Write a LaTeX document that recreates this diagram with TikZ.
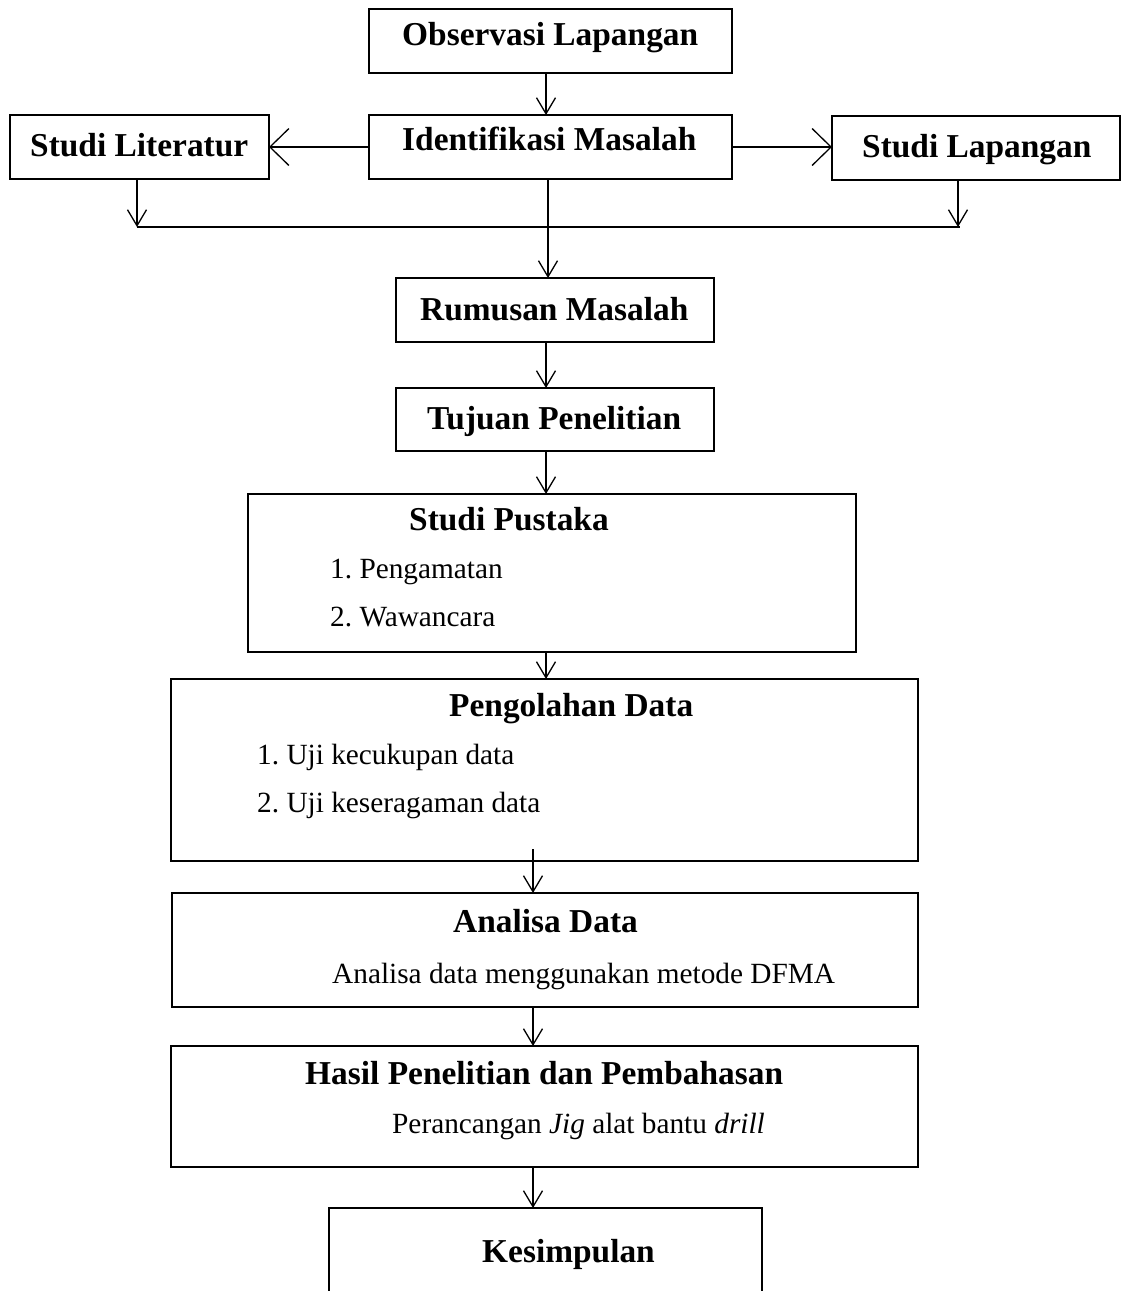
\documentclass[tikz,border=0pt]{standalone}
\usepackage{fontspec}
\setmainfont{Liberation Serif}
\usetikzlibrary{arrows.meta}
\begin{document}
\begin{tikzpicture}[x=1pt,y=-1pt,
  box/.style={draw, rectangle, line width=1.5pt, inner sep=0pt, outer sep=0pt},
  ttl/.style={font=\fontsize{33.4}{40}\selectfont\bfseries, anchor=base west, inner sep=0pt},
  txt/.style={font=\fontsize{29.3}{35}\selectfont, anchor=base west, inner sep=0pt},
  varr/.style={line width=1.3pt, -{Straight Barb[length=16pt,width=19pt]}},
  harr/.style={line width=1.3pt, -{Straight Barb[length=19pt,width=37pt]}},
  plain/.style={line width=1.3pt}]
\useasboundingbox (0,0) rectangle (1121,1291);
\clip (0,0) rectangle (1121,1291);
% boxes
\node[box, minimum width=363pt, minimum height=64pt] (obs) at (550.5,41) {};
\node[box, minimum width=363pt, minimum height=64pt] (idm) at (550.5,147) {};
\node[box, minimum width=259pt, minimum height=64pt] (slit) at (139.5,147) {};
\node[box, minimum width=288pt, minimum height=64pt] (slap) at (976,148) {};
\node[box, minimum width=318pt, minimum height=64pt] (rum) at (555,310) {};
\node[box, minimum width=318pt, minimum height=63pt] (tuj) at (555,419.5) {};
\node[box, minimum width=608pt, minimum height=158pt] (pus) at (552,573) {};
\node[box, minimum width=747pt, minimum height=182pt] (peng) at (544.5,770) {};
\node[box, minimum width=746pt, minimum height=114pt] (ana) at (545,950) {};
\node[box, minimum width=747pt, minimum height=121pt] (has) at (544.5,1106.5) {};
\node[box, minimum width=433pt, minimum height=112pt] (kes) at (545.5,1264) {};
% texts
\node[ttl] (tobs) at (402,45) {Observasi Lapangan};
\node[ttl] (tidm) at (402,150) {Identifikasi Masalah};
\node[ttl] (tslit) at (30,156) {Studi Literatur};
\node[ttl] (tslap) at (862,157) {Studi Lapangan};
\node[ttl] (trum) at (420,320) {Rumusan Masalah};
\node[ttl] (ttuj) at (427,429) {Tujuan Penelitian};
\node[ttl] (tpus) at (409,530) {Studi Pustaka};
\node[txt] (tpus1) at (330,578) {1.\ Pengamatan};
\node[txt] (tpus2) at (330,626) {2.\ Wawancara};
\node[ttl] (tpeng) at (449,716) {Pengolahan Data};
\node[txt] (tpeng1) at (257,764) {1.\ Uji kecukupan data};
\node[txt] (tpeng2) at (257,812) {2.\ Uji keseragaman data};
\node[ttl] (tana) at (453,932) {Analisa Data};
\node[txt] (tana1) at (332,983) {Analisa data menggunakan metode DFMA};
\node[ttl] (thas) at (305,1084) {Hasil Penelitian dan Pembahasan};
\node[txt] (thas1) at (392,1133) {Perancangan \textit{Jig} alat bantu \textit{drill}};
\node[ttl] (tkes) at (482,1262) {Kesimpulan};
% guide coordinates
\coordinate (xa) at (546,0);
\coordinate (xb) at (548,0);
\coordinate (xc) at (533,0);
\coordinate (xl) at (137,0);
\coordinate (xr) at (958,0);
\coordinate (j1) at (137,227);
\coordinate (j2) at (960,227);
% connectors
\draw[varr] (obs.south -| xa) -- (idm.north -| xa);
\draw[harr] (idm.west) -- (slit.east);
\draw[harr] (idm.east) -- (slap.west |- idm.east);
\draw[varr] (slit.south -| xl) -- (j1);
\draw[varr] (slap.south -| xr) -- (j2 -| xr);
\draw[plain] (j1) -- (j2);
\draw[varr] (idm.south -| xb) -- (rum.north -| xb);
\draw[varr] (rum.south -| xa) -- (tuj.north -| xa);
\draw[varr] (tuj.south -| xa) -- (pus.north -| xa);
\draw[varr] (pus.south -| xa) -- (peng.north -| xa);
\draw[varr] ([yshift=12pt]peng.south -| xc) -- (ana.north -| xc);
\draw[varr] (ana.south -| xc) -- (has.north -| xc);
\draw[varr] (has.south -| xc) -- (kes.north -| xc);
\end{tikzpicture}
\end{document}
